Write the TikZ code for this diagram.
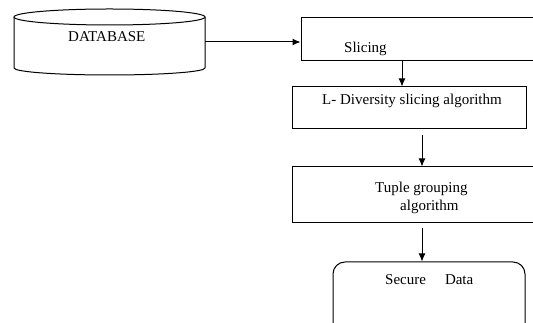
\documentclass[tikz,border=0pt]{standalone}
\usepackage{fontspec}
\setmainfont{Liberation Serif}
\usetikzlibrary{arrows.meta}

\begin{document}
\begin{tikzpicture}[x=1pt,y=1pt,
  box/.style={draw, line width=1pt, inner sep=0pt},
  lbl/.style={font=\fontsize{15}{18}\selectfont, inner sep=0pt, anchor=west},
  arr/.style={draw, line width=1pt, -{Latex[length=8pt,width=7pt]}}]
  \useasboundingbox (0,0) rectangle (533,323);
  \clip (0,0) rectangle (533,323);
  % Database (cylinder)
  \draw[line width=1pt] (14,306) -- (14,255) arc[start angle=180, end angle=360, x radius=95.5, y radius=7] -- (205,306);
  \draw[line width=1pt, fill=white] (109.5,306) ellipse [x radius=95.5, y radius=8];
  \node[lbl] (db) at (68,286) {DATABASE};
  \coordinate (dbout) at (205,281);
  % Steps
  \node[box, minimum width=249pt, minimum height=43pt] (slice) at (425.5,283.5) {};
  \node[lbl] (slicetxt) at (344,274) {Slicing};
  \node[box, minimum width=234pt, minimum height=42pt] (ldiv) at (409,215) {};
  \node[lbl] (ldivtxt) at (322,222) {L- Diversity slicing algorithm};
  \node[box, minimum width=258pt, minimum height=56pt] (tuple) at (421,128) {};
  \node[lbl, align=left] (tupletxt) at (375,125) {Tuple grouping\\\hspace{25pt}algorithm};
  \node[box, rounded corners=12pt, minimum width=192pt, minimum height=78pt] (secure) at (429,22) {};
  \node[lbl] (securetxt) at (385,43) {Secure\hspace{19pt}Data};
  % Arrows
  \draw[arr] (dbout) -- (dbout -| slice.west);
  \draw[arr] ([xshift=-23.5pt]slice.south) -- ([xshift=-7pt]ldiv.north);
  \draw[arr] ([xshift=13pt,yshift=-6pt]ldiv.south) -- ([xshift=1pt]tuple.north);
  \draw[arr] ([xshift=1pt,yshift=-5pt]tuple.south) -- ([xshift=-7pt]secure.north);
\end{tikzpicture}
\end{document}
